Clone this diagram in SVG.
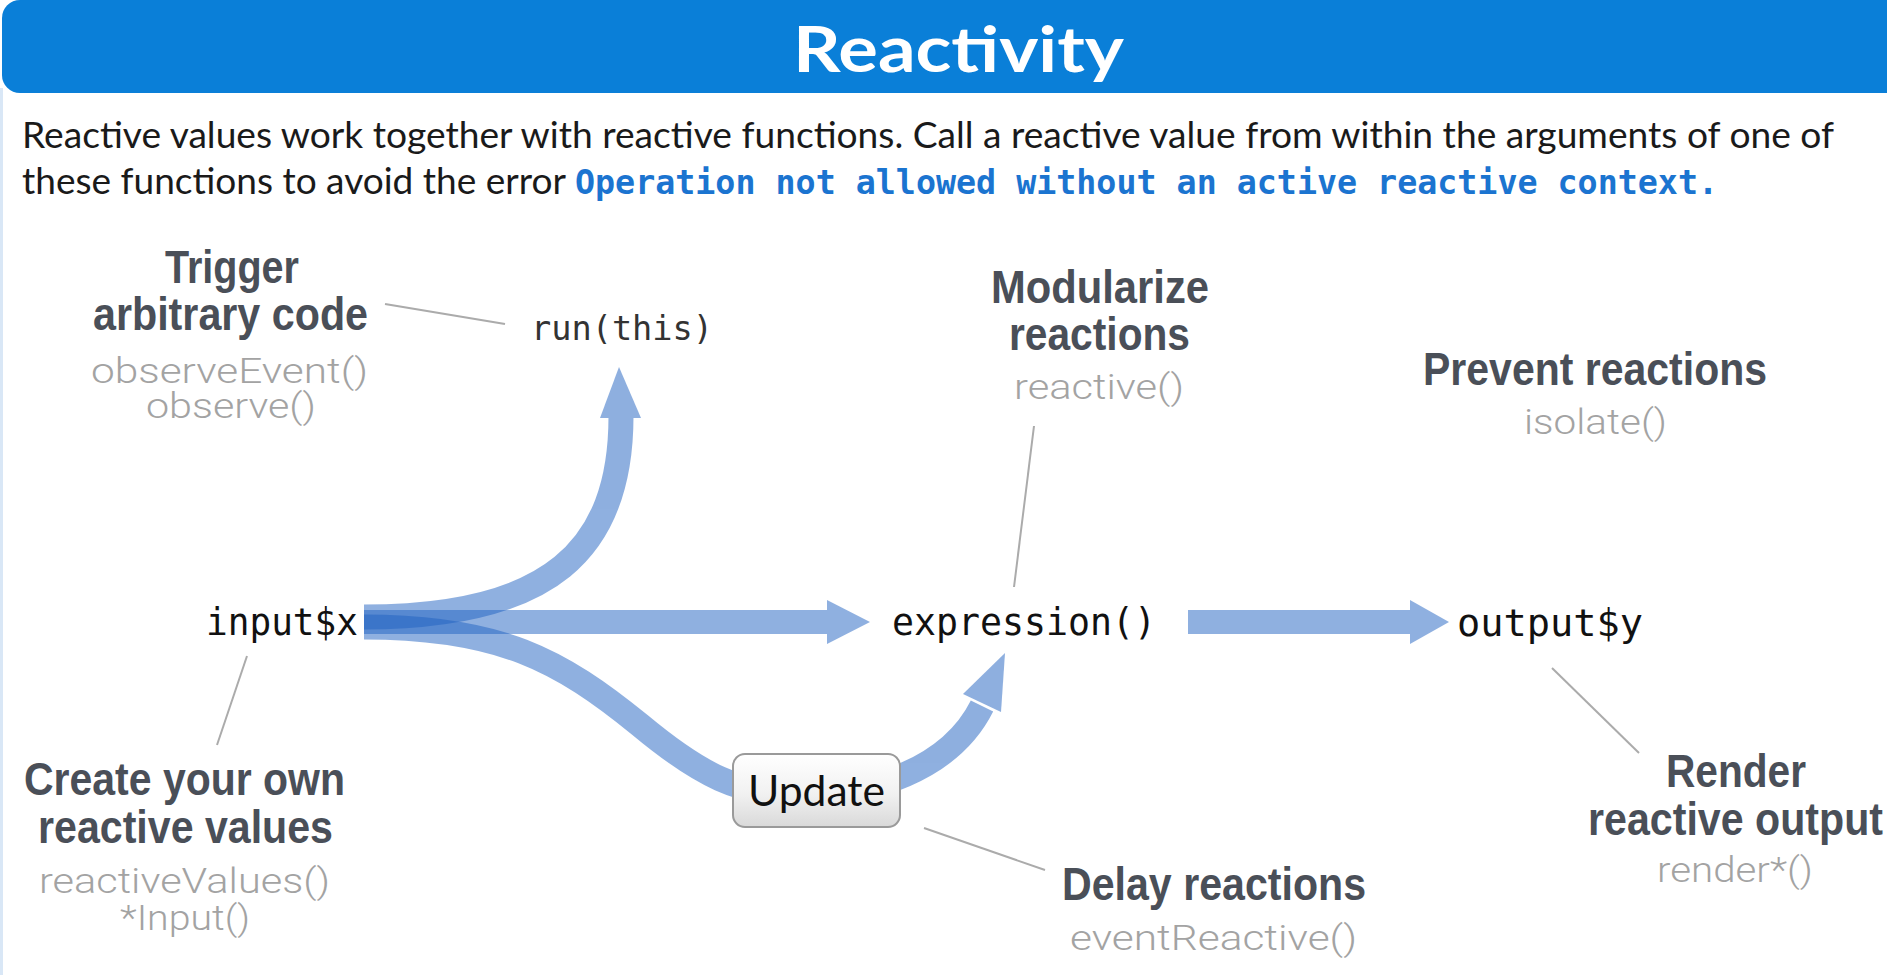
<svg xmlns="http://www.w3.org/2000/svg" width="1887" height="975" viewBox="0 0 1887 975">
  <defs>
    <linearGradient id="btn" x1="0" y1="0" x2="0" y2="1">
      <stop offset="0" stop-color="#ffffff"/>
      <stop offset="0.55" stop-color="#f1f1f1"/>
      <stop offset="1" stop-color="#d9d9d9"/>
    </linearGradient>
  </defs>
  <style>
    .title { font-family: Lato, "Open Sans", "Liberation Sans", sans-serif; font-weight: 700; font-size: 64px; fill: #ffffff; }
    .intro { font-family: Lato, "Open Sans", "Liberation Sans", sans-serif; font-size: 36px; fill: #1a1a1a; }
    .err { font-family: "DejaVu Sans Mono", "Liberation Mono", monospace; font-weight: 700; font-size: 33px; fill: #1b74d0; }
    .code { font-family: "DejaVu Sans Mono", "Liberation Mono", monospace; font-size: 37px; fill: #111111; }
    .head { font-family: "Liberation Sans", Arial, sans-serif; font-weight: 700; font-size: 46px; fill: #4a4f58; }
    .fn { font-family: Roboto, "Liberation Sans", Arial, sans-serif; font-weight: 300; font-size: 35px; fill: #a3a3a3; }
    .lead { stroke: #ababab; stroke-width: 2; fill: none; }
    .arrow { opacity: 0.5; }
    .shaft { fill: none; stroke: #1f61c1; stroke-width: 25; stroke-linecap: butt; }
    .ahead { fill: #1f61c1; }
  </style>

  <rect x="0" y="0" width="1887" height="975" fill="#ffffff"/>
  <rect x="0" y="88" width="3" height="887" fill="#d9e7f6"/>

  <g id="header">
    <rect x="2" y="0" width="1910" height="93" rx="18" fill="#0a7fd8"/>
    <text class="title" x="793" y="72" textLength="331" lengthAdjust="spacingAndGlyphs">Reactivity</text>
  </g>

  <g id="intro">
    <text class="intro" x="22" y="148" textLength="1812" lengthAdjust="spacingAndGlyphs">Reactive values work together with reactive functions. Call a reactive value from within the arguments of one of</text>
    <text class="intro" x="22" y="194" textLength="544" lengthAdjust="spacingAndGlyphs">these functions to avoid the error</text>
    <text class="err" x="575" y="194" textLength="1143" lengthAdjust="spacingAndGlyphs">Operation not allowed without an active reactive context.</text>
  </g>

  <g id="connectors">
    <g class="arrow" id="arrow-input-run">
      <path class="shaft" d="M 364,617 C 550,617 621,550 621,416"/>
      <polygon class="ahead" points="600,418 641,418 619,367"/>
    </g>
    <g class="arrow" id="arrow-input-expression">
      <path class="ahead" d="M 364,610 H 827 V 600 L 870,622 L 827,644 V 634 H 364 Z"/>
    </g>
    <g class="arrow" id="arrow-input-update-expression">
      <path class="shaft" d="M 364,627 C 500,627 560,660 640,725 C 700,775 740,795 800,795 C 870,795 950,770 982,706"/>
      <polygon class="ahead" points="963,694 1001,712 1005,653"/>
    </g>
    <g class="arrow" id="arrow-expression-output">
      <path class="ahead" d="M 1188,610 H 1410 V 600 L 1449,622 L 1410,644 V 634 H 1188 Z"/>
    </g>
    <line class="lead" x1="385" y1="304" x2="505" y2="324"/>
    <line class="lead" x1="1034" y1="426" x2="1014" y2="587"/>
    <line class="lead" x1="247" y1="656" x2="217" y2="745"/>
    <line class="lead" x1="924" y1="828" x2="1045" y2="870"/>
    <line class="lead" x1="1552" y1="668" x2="1639" y2="753"/>
  </g>

  <g id="node-input">
    <text class="code" x="206" y="635" textLength="152" lengthAdjust="spacingAndGlyphs">input$x</text>
  </g>
  <g id="node-run">
    <text class="code" x="531" y="340" textLength="182" lengthAdjust="spacingAndGlyphs" style="font-size:34px;fill:#333333">run(this)</text>
  </g>
  <g id="node-expression">
    <text class="code" x="892" y="635" textLength="264" lengthAdjust="spacingAndGlyphs">expression()</text>
  </g>
  <g id="node-output">
    <text class="code" x="1457" y="636" textLength="186" lengthAdjust="spacingAndGlyphs">output$y</text>
  </g>
  <g id="node-update">
    <rect x="733" y="754" width="167" height="73" rx="12" fill="url(#btn)" stroke="#9a9a9a" stroke-width="2"/>
    <text x="748" y="806" textLength="137" lengthAdjust="spacingAndGlyphs" style="font-family:Lato,'Open Sans','Liberation Sans',sans-serif;font-size:42px;fill:#111111">Update</text>
  </g>

  <g id="label-trigger">
    <text class="head" x="165" y="283" textLength="134" lengthAdjust="spacingAndGlyphs">Trigger</text>
    <text class="head" x="93" y="330" textLength="275" lengthAdjust="spacingAndGlyphs">arbitrary code</text>
    <text class="fn" x="91" y="383" textLength="277" lengthAdjust="spacingAndGlyphs">observeEvent()</text>
    <text class="fn" x="146" y="418" textLength="170" lengthAdjust="spacingAndGlyphs">observe()</text>
  </g>
  <g id="label-modularize">
    <text class="head" x="991" y="303" textLength="218" lengthAdjust="spacingAndGlyphs">Modularize</text>
    <text class="head" x="1009" y="350" textLength="181" lengthAdjust="spacingAndGlyphs">reactions</text>
    <text class="fn" x="1014" y="399" textLength="170" lengthAdjust="spacingAndGlyphs">reactive()</text>
  </g>
  <g id="label-prevent">
    <text class="head" x="1423" y="385" textLength="344" lengthAdjust="spacingAndGlyphs">Prevent reactions</text>
    <text class="fn" x="1524" y="434" textLength="143" lengthAdjust="spacingAndGlyphs">isolate()</text>
  </g>
  <g id="label-create">
    <text class="head" x="24" y="795" textLength="321" lengthAdjust="spacingAndGlyphs">Create your own</text>
    <text class="head" x="38" y="843" textLength="295" lengthAdjust="spacingAndGlyphs">reactive values</text>
    <text class="fn" x="39" y="893" textLength="291" lengthAdjust="spacingAndGlyphs">reactiveValues()</text>
    <text class="fn" x="120" y="930" textLength="130" lengthAdjust="spacingAndGlyphs">*Input()</text>
  </g>
  <g id="label-delay">
    <text class="head" x="1062" y="900" textLength="304" lengthAdjust="spacingAndGlyphs">Delay reactions</text>
    <text class="fn" x="1070" y="950" textLength="287" lengthAdjust="spacingAndGlyphs">eventReactive()</text>
  </g>
  <g id="label-render">
    <text class="head" x="1666" y="787" textLength="140" lengthAdjust="spacingAndGlyphs">Render</text>
    <text class="head" x="1588" y="835" textLength="295" lengthAdjust="spacingAndGlyphs">reactive output</text>
    <text class="fn" x="1657" y="882" textLength="156" lengthAdjust="spacingAndGlyphs">render*()</text>
  </g>
</svg>
